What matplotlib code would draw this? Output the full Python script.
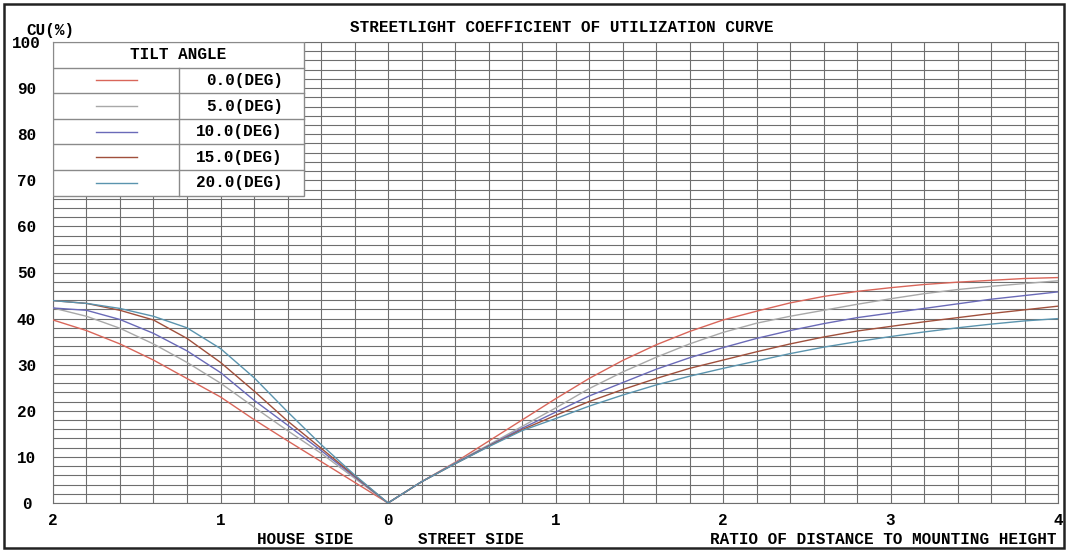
import numpy as np
import matplotlib
matplotlib.use('Agg')
import matplotlib.pyplot as plt
from matplotlib.patches import Rectangle
from matplotlib.ticker import MultipleLocator, FixedLocator, FixedFormatter

plt.rcParams['font.family'] = ['Liberation Mono', 'DejaVu Sans Mono']
plt.rcParams['font.weight'] = 'bold'

# ========== data ==========
# house side: ratio 2.0 -> 0.0 (drawn to the left of 0)
house_ratio = [2.0, 1.8, 1.6, 1.4, 1.2, 1.0, 0.8, 0.6, 0.4, 0.2, 0.0]
# street side: ratio 0.0 -> 4.0
street_ratio = [0.0, 0.2, 0.4, 0.6, 0.8, 1.0, 1.2, 1.4, 1.6, 1.8, 2.0,
                2.2, 2.4, 2.6, 2.8, 3.0, 3.2, 3.4, 3.6, 3.8, 4.0]

angles = ['0.0(DEG)', '5.0(DEG)', '10.0(DEG)', '15.0(DEG)', '20.0(DEG)']
colors = ['#d9665a', '#a8a8a8', '#6a6ab8', '#a0503c', '#5a94ae']

house_cu = {
    '0.0(DEG)':  [39.7, 37.4, 34.5, 31.0, 27.0, 23.0, 18.1, 13.5, 9.0, 4.5, 0],
    '5.0(DEG)':  [42.3, 40.5, 37.9, 34.5, 30.5, 26.0, 20.8, 15.7, 10.8, 5.4, 0],
    '10.0(DEG)': [42.3, 41.8, 39.8, 36.8, 33.0, 28.3, 22.3, 16.9, 11.4, 5.7, 0],
    '15.0(DEG)': [43.9, 43.3, 41.8, 39.7, 35.7, 30.5, 24.3, 17.8, 11.9, 5.9, 0],
    '20.0(DEG)': [43.9, 43.3, 42.2, 40.5, 38.0, 33.5, 27.2, 19.8, 12.7, 6.1, 0],
}

street_cu = {
    '0.0(DEG)':  [0, 4.6, 8.8, 13.4, 18.0, 22.6, 27.0, 30.9, 34.3, 37.2, 39.7,
                  41.6, 43.4, 44.8, 45.9, 46.7, 47.4, 47.9, 48.3, 48.7, 48.9],
    '5.0(DEG)':  [0, 4.6, 8.7, 12.6, 16.6, 20.6, 24.8, 28.4, 31.6, 34.5, 37.0,
                  39.0, 40.5, 41.8, 43.1, 44.3, 45.4, 46.3, 47.0, 47.6, 48.2],
    '10.0(DEG)': [0, 4.6, 8.6, 12.4, 16.2, 19.7, 23.2, 26.1, 29.0, 31.5, 33.7,
                  35.7, 37.4, 38.9, 40.2, 41.2, 42.2, 43.2, 44.2, 45.0, 45.8],
    '15.0(DEG)': [0, 4.6, 8.5, 12.3, 15.9, 19.0, 22.0, 24.6, 27.0, 29.2, 31.0,
                  32.8, 34.5, 36.0, 37.3, 38.3, 39.3, 40.2, 41.1, 41.9, 42.7],
    '20.0(DEG)': [0, 4.6, 8.5, 12.2, 15.7, 18.3, 21.0, 23.4, 25.6, 27.5, 29.2,
                  30.8, 32.4, 33.8, 35.0, 36.1, 37.1, 38.0, 38.8, 39.5, 40.0],
}

xtick_pos = [-2, -1, 0, 1, 2, 3, 4]
xtick_labels = ['2', '1', '0', '1', '2', '3', '4']
ytick_pos = [0, 10, 20, 30, 40, 50, 60, 70, 80, 90, 100]

# ========== figure ==========
fig = plt.figure(figsize=(10.67, 5.51), dpi=100)
W, H = 1067, 551
ax = fig.add_axes([53 / W, 48 / H, 1005 / W, 461 / H])

hx = -np.array(house_ratio)
sx = np.array(street_ratio)
for ang, c in zip(angles, colors):
    ax.plot(np.concatenate([hx, sx[1:]]),
            np.concatenate([house_cu[ang], street_cu[ang][1:]]),
            color=c, lw=1.0, zorder=4)

ax.set_xlim(-2, 4)
ax.set_ylim(0, 100)
ax.xaxis.set_major_locator(FixedLocator(xtick_pos))
ax.xaxis.set_major_formatter(FixedFormatter(xtick_labels))
ax.xaxis.set_minor_locator(MultipleLocator(0.2))
ax.set_yticks(ytick_pos)
ax.yaxis.set_minor_locator(MultipleLocator(2))
ax.tick_params(which='both', length=0)
ax.tick_params(axis='x', pad=7, labelsize=11.5)
ax.tick_params(axis='y', pad=19, labelsize=11.5)
for lab in ax.get_yticklabels():
    lab.set_horizontalalignment('center')
ax.grid(True, which='both', color='#6e6e6e', lw=0.8, zorder=1)
ax.set_axisbelow(True)
for s in ax.spines.values():
    s.set_color('#6e6e6e')
    s.set_linewidth(0.8)

# legend table (axes fractions)
tr = ax.transAxes
ax.add_patch(Rectangle((0, 0.6666), 0.25, 1 - 0.6666, transform=tr,
                       facecolor='white', edgecolor='#8a8a8a', lw=1.0, zorder=5))
ax.plot([0, 0.25], [0.9443, 0.9443], transform=tr, color='#8a8a8a', lw=1.0, zorder=6)
ax.plot([0.1257, 0.1257], [0.6666, 0.9443], transform=tr, color='#8a8a8a', lw=1.0, zorder=6)
ax.text(0.125, 0.972, 'TILT ANGLE', transform=tr, ha='center', va='center',
        fontsize=11.5, zorder=7)
row_h = (0.9443 - 0.6666) / 5
for i, (ang, c) in enumerate(zip(angles, colors)):
    top = 0.9443 - i * row_h
    yc = top - row_h / 2
    if i > 0:
        ax.plot([0, 0.25], [top, top], transform=tr, color='#8a8a8a', lw=1.0, zorder=6)
    ax.plot([0.0425, 0.0839], [yc, yc], transform=tr, color=c, lw=1.0, zorder=7)
    ax.text(0.2286, yc, ang, transform=tr, ha='right', va='center',
            fontsize=11.5, zorder=7)

# texts
fig.text(562 / W, 1 - 28 / H, 'STREETLIGHT COEFFICIENT OF UTILIZATION CURVE',
         ha='center', va='center', fontsize=11.5)
fig.text(26 / W, 1 - 30 / H, 'CU(%)', ha='left', va='center', fontsize=11.5)
fig.text(305 / W, 1 - 540 / H, 'HOUSE SIDE', ha='center', va='center', fontsize=11.5)
fig.text(471 / W, 1 - 540 / H, 'STREET SIDE', ha='center', va='center', fontsize=11.5)
fig.text(1056 / W, 1 - 540 / H, 'RATIO OF DISTANCE TO MOUNTING HEIGHT',
         ha='right', va='center', fontsize=11.5)

# outer frame
fig.patches.append(Rectangle((3.5 / W, 3.5 / H), 1 - 7 / W, 1 - 7 / H,
                             transform=fig.transFigure, fill=False,
                             edgecolor='#222222', lw=1.8))

fig.savefig('out.png', dpi=100)
